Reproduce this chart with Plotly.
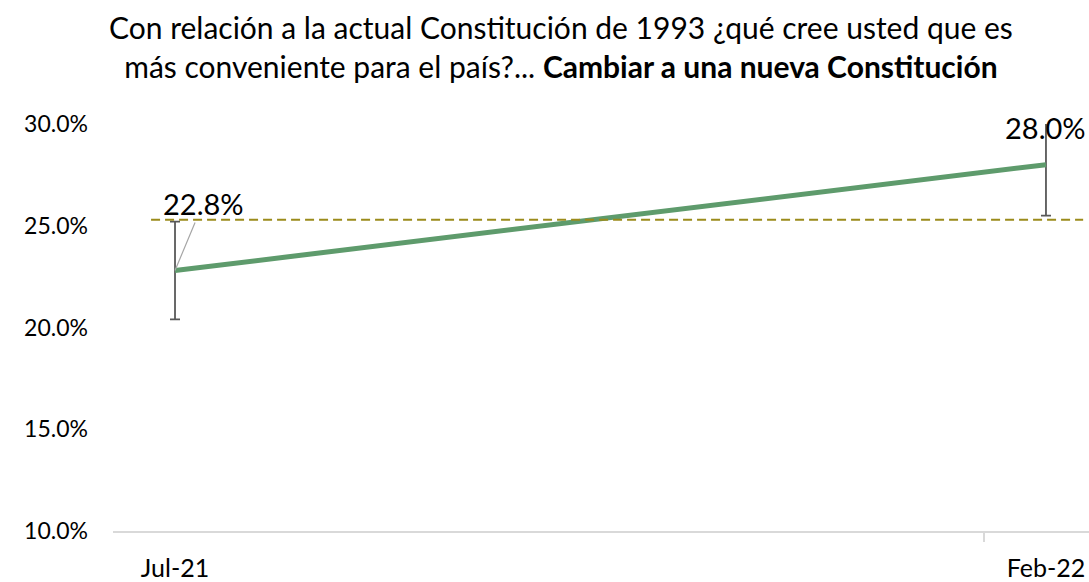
import plotly.graph_objects as go

# Survey periods and share answering "Cambiar a una nueva Constitución" (%)
periods = ["Jul-21", "Feb-22"]
share = [22.8, 28.0]
err_plus = [2.4, 2.1]
err_minus = [2.4, 2.5]
reference_level = 25.3

y_ticks = [10, 15, 20, 25, 30]
y_tick_labels = ["10.0%", "15.0%", "20.0%", "25.0%", "30.0%"]

title_text = ("Con relación a la actual Constitución de 1993 ¿qué cree usted que es<br>"
              "más conveniente para el país?... <b>Cambiar a una nueva Constitución</b>")

x_pos = list(range(len(periods)))

title_font = "Lato, Open Sans, sans-serif"
label_font = "Lato, Open Sans, sans-serif"

fig = go.Figure()

fig.add_trace(go.Scatter(
    x=x_pos,
    y=share,
    mode="lines",
    line=dict(color="#5e9b6c", width=5),
    error_y=dict(type="data", symmetric=False, array=err_plus, arrayminus=err_minus,
                 color="#595959", thickness=1.8, width=5),
    cliponaxis=False,
    hoverinfo="skip",
    showlegend=False,
))

# Reference level drawn as a dashed horizontal line above the series
fig.add_shape(type="line", xref="paper", yref="y", x0=0.039, x1=0.994,
              y0=reference_level, y1=reference_level,
              line=dict(color="#9b8b1b", width=2, dash="9px,5px"), layer="above")

# Value labels
fig.add_annotation(x=x_pos[0], y=share[0], text=f"{share[0]:.1f}%",
                   showarrow=True, arrowhead=0, arrowwidth=1.2, arrowcolor="#a6a6a6",
                   ax=28, ay=-67, font=dict(family=label_font, size=29, color="#000000"))
fig.add_annotation(x=x_pos[1], y=share[1], text=f"{share[1]:.1f}%",
                   showarrow=False, yshift=37,
                   font=dict(family=label_font, size=29, color="#000000"))

# Chart title
fig.add_annotation(text=title_text, xref="paper", yref="paper", x=0.459, y=1.19,
                   xanchor="center", yanchor="middle", showarrow=False, align="center",
                   font=dict(family=title_font, size=30, color="#000000"))

fig.update_layout(
    width=1089, height=582,
    margin=dict(l=113, r=0, t=124, b=48),
    paper_bgcolor="white", plot_bgcolor="white",
    xaxis=dict(
        range=[-0.0712, 1.0494],
        tickmode="array", tickvals=x_pos, ticktext=periods,
        ticks="", showgrid=False, zeroline=False,
        showline=True, linecolor="#d9d9d9", linewidth=1.5,
        minor=dict(tickmode="array", tickvals=[-0.0714, 0.9286], ticks="outside",
                   ticklen=9, tickcolor="#d9d9d9", tickwidth=1.5, showgrid=False),
        tickfont=dict(family=label_font, size=25, color="#000000"),
        ticklabelstandoff=14,
        fixedrange=True,
    ),
    yaxis=dict(
        range=[10, 30],
        tickmode="array", tickvals=y_ticks, ticktext=y_tick_labels,
        ticks="", showgrid=False, zeroline=False, showline=False,
        tickfont=dict(family=label_font, size=23, color="#000000"),
        ticklabelstandoff=24,
        fixedrange=True,
    ),
)

fig.write_html("out.html", config={"displayModeBar": False})
